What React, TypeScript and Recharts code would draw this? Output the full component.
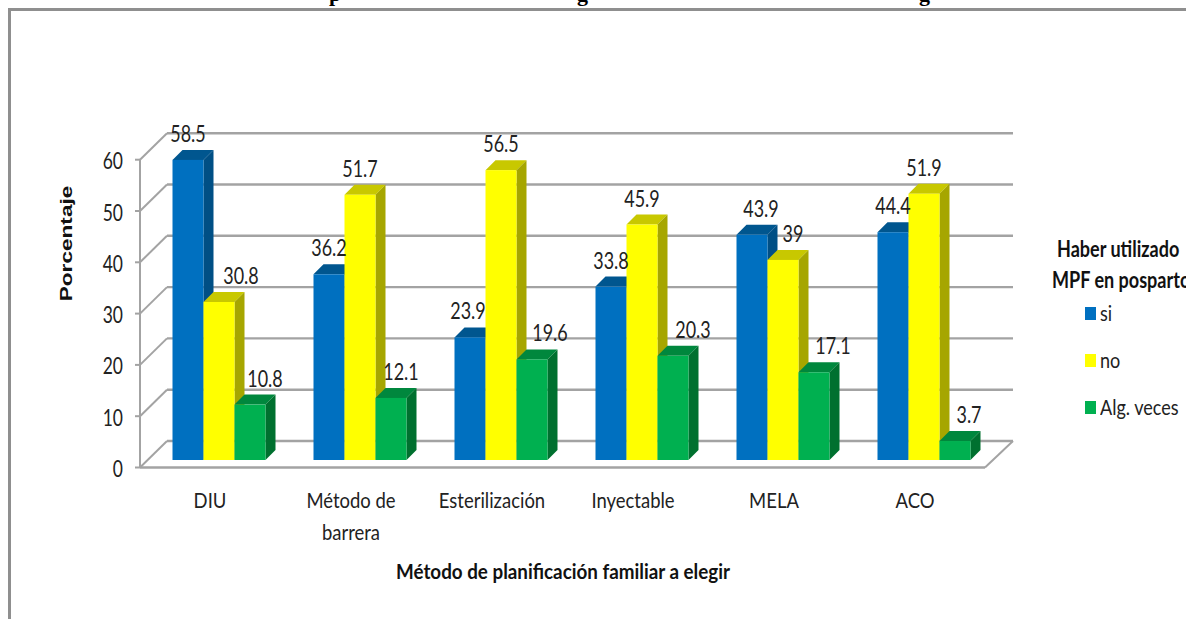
import React from 'react';
import { BarChart, Bar, XAxis, YAxis, LabelList, Legend, CartesianGrid } from 'recharts';

const categories = ['DIU', 'Método de barrera', 'Esterilización', 'Inyectable', 'MELA', 'ACO'];
const si = [58.5, 36.2, 23.9, 33.8, 43.9, 44.4];
const no = [30.8, 51.7, 56.5, 45.9, 39, 51.9];
const algVeces = [10.8, 12.1, 19.6, 20.3, 17.1, 3.7];
const yTicks = [0, 10, 20, 30, 40, 50, 60];
const legendOrder = ['si', 'no', 'Alg. veces'];
const categoryLines: Record<string, string[]> = { 'Método de barrera': ['Método de', 'barrera'] };

const siLabelShift = [0, 0, -2, 0, 9, 0];
const noLabelShift = [22, 0, 0, 0, 10, 0];
const algLabelShift = [15, 10, 18, 20, 19, 14];

const data = categories.map((name, i) => ({ name, si: si[i], no: no[i], alg: algVeces[i] }));

const BODY = 'Lato, "Open Sans", sans-serif';
const GRID = '#a3a3a3';
const DEPTH = 10;
const FRONT_X = 140, BACK_X = 167, FRONT_END = 985, BACK_END = 1013;
const FRONT_DY = 7.5, BACK_DY = -19;
const STEP = 307.8 / 6;
const PLOT_BOTTOM = 460;

function SText({ x, y, size = 20, weight = 400, anchor = 'middle', sx = 0.82, rotate = 0, fill = '#222', family = BODY, children }: any) {
  return (
    <text
      transform={`translate(${x} ${y}) rotate(${rotate}) scale(${sx} 1)`}
      fontSize={size}
      fontWeight={weight}
      fontFamily={family}
      textAnchor={anchor}
      fill={fill}
    >
      {children}
    </text>
  );
}

const Bar3D = (colors: { front: string; top: string; side: string }) => (props: any) => {
  const { x, y, width, height } = props;
  const d = DEPTH;
  return (
    <g>
      <polygon points={`${x},${y} ${x + d},${y - d} ${x + width + d},${y - d} ${x + width},${y}`} fill={colors.top} />
      <polygon points={`${x + width},${y} ${x + width + d},${y - d} ${x + width + d},${y + height - d} ${x + width},${y + height}`} fill={colors.side} />
      <rect x={x} y={y} width={width} height={height} fill={colors.front} />
    </g>
  );
};

const BarLabel = (shifts: number[]) => (props: any) => {
  const { x, y, width, value, index } = props;
  return (
    <SText x={x + width / 2 + shifts[index]} y={y - 18} size={23} sx={0.78}>
      {value}
    </SText>
  );
};

const GridLine3D = (props: any) => {
  const y = props.y1;
  const fy = y + FRONT_DY;
  const by = y + BACK_DY;
  const isZero = Math.abs(y - PLOT_BOTTOM) < 2;
  return (
    <g key={props.key ?? y}>
      <line x1={135} x2={FRONT_X} y1={fy} y2={fy} stroke={GRID} strokeWidth={2} />
      {!isZero && <line x1={FRONT_X} x2={FRONT_X} y1={fy} y2={fy + STEP} stroke={GRID} strokeWidth={2} />}
      <line x1={FRONT_X} x2={BACK_X} y1={fy} y2={by} stroke={GRID} strokeWidth={2} />
      <line x1={BACK_X} x2={BACK_END} y1={by} y2={by} stroke={GRID} strokeWidth={2.4} />
      {isZero && (
        <>
          <line x1={FRONT_X} x2={FRONT_END} y1={fy} y2={fy} stroke={GRID} strokeWidth={2.4} />
          <line x1={FRONT_END} x2={BACK_END} y1={fy} y2={by} stroke={GRID} strokeWidth={2} />
        </>
      )}
    </g>
  );
};

const YTick = (props: any) => {
  const { y, payload } = props;
  return (
    <SText x={123} y={y + FRONT_DY + 9.5} size={23} sx={0.76} anchor="end">
      {payload.value}
    </SText>
  );
};

const XTick = (props: any) => {
  const { x, payload } = props;
  const lines = categoryLines[payload.value] ?? [payload.value];
  return (
    <g>
      {lines.map((l: string, i: number) => (
        <SText key={l} x={x - 9} y={508 + i * 32} size={22} sx={0.84}>
          {l}
        </SText>
      ))}
    </g>
  );
};

const LegendContent = (props: any) => {
  const items = [...(props.payload ?? [])].sort((a: any, b: any) => legendOrder.indexOf(a.value) - legendOrder.indexOf(b.value));
  const tops = [72, 119, 166];
  const base: React.CSSProperties = { position: 'absolute', whiteSpace: 'nowrap', fontFamily: BODY, color: '#222' };
  return (
    <div style={{ position: 'relative', width: 146, height: 200, overflow: 'hidden' }}>
      <div style={{ ...base, left: 17, top: 0, fontSize: 22, fontWeight: 700, lineHeight: '28px', transformOrigin: 'left top', transform: 'scaleX(0.82)', color: '#111' }}>Haber utilizado</div>
      <div style={{ ...base, left: 12, top: 31, fontSize: 22, fontWeight: 700, lineHeight: '28px', transformOrigin: 'left top', transform: 'scaleX(0.82)', color: '#111' }}>MPF en posparto</div>
      {items.map((it: any, i: number) => (
        <React.Fragment key={it.value}>
          <div style={{ position: 'absolute', left: 45, top: tops[i], width: 11, height: 13, background: it.color }} />
          <div style={{ ...base, left: 60, top: tops[i] - 7, fontSize: 22, lineHeight: '26px', transformOrigin: 'left top', transform: 'scaleX(0.82)' }}>{it.value}</div>
        </React.Fragment>
      ))}
    </div>
  );
};

export default function App() {
  return (
    <div style={{ position: 'absolute', left: 0, top: 0, width: 1186, height: 619, overflow: 'hidden', background: '#fff' }}>
      <div style={{ position: 'absolute', left: 8, top: 8, width: 1400, height: 900, border: '3px solid #8f8f8f' }} />
      {[['p', 335], ['g', 583], ['g', 925]].map(([c, x], i) => (
        <div key={i} style={{ position: 'absolute', left: (x as number) - 6, top: -18, fontFamily: '"Liberation Serif", serif', fontWeight: 700, fontSize: 22, lineHeight: '24px', color: '#000' }}>{c}</div>
      ))}
      <BarChart
        width={1186}
        height={619}
        data={data}
        margin={{ top: 152.2, bottom: 158, left: 147.5, right: 45.5 }}
        barCategoryGap={24}
        barGap={0}
        style={{ position: 'absolute', left: 0, top: 0 }}
      >
        <CartesianGrid vertical={false} horizontal={GridLine3D} horizontalValues={yTicks} />
        <YAxis
          width={1}
          domain={[0, 60]}
          ticks={yTicks}
          interval={0}
          axisLine={false}
          tickLine={false}
          tick={YTick}
          label={() => (
            <SText x={72} y={243.5} size={17} weight={700} rotate={-90} sx={1.33} family='"Liberation Sans", sans-serif' fill="#111">
              Porcentaje
            </SText>
          )}
        />
        <XAxis
          dataKey="name"
          height={1}
          interval={0}
          axisLine={false}
          tickLine={false}
          tick={XTick}
          label={() => (
            <SText x={563} y={579} size={21.5} weight={700} sx={0.875} fill="#111">
              Método de planificación familiar a elegir
            </SText>
          )}
        />
        <Legend
          layout="vertical"
          align="right"
          verticalAlign="middle"
          content={LegendContent}
          wrapperStyle={{ position: 'absolute', left: 1040, top: 235, width: 146, height: 200 }}
        />
        <Bar dataKey="si" name="si" fill="#0070C0" isAnimationActive={false} shape={Bar3D({ front: '#0070C0', top: '#00568F', side: '#004F85' })}>
          <LabelList dataKey="si" content={BarLabel(siLabelShift)} />
        </Bar>
        <Bar dataKey="no" name="no" fill="#FFFF00" isAnimationActive={false} shape={Bar3D({ front: '#FFFF00', top: '#C8C800', side: '#A6A600' })}>
          <LabelList dataKey="no" content={BarLabel(noLabelShift)} />
        </Bar>
        <Bar dataKey="alg" name="Alg. veces" fill="#00B050" isAnimationActive={false} shape={Bar3D({ front: '#00B050', top: '#00873D', side: '#00702F' })}>
          <LabelList dataKey="alg" content={BarLabel(algLabelShift)} />
        </Bar>
      </BarChart>
    </div>
  );
}
